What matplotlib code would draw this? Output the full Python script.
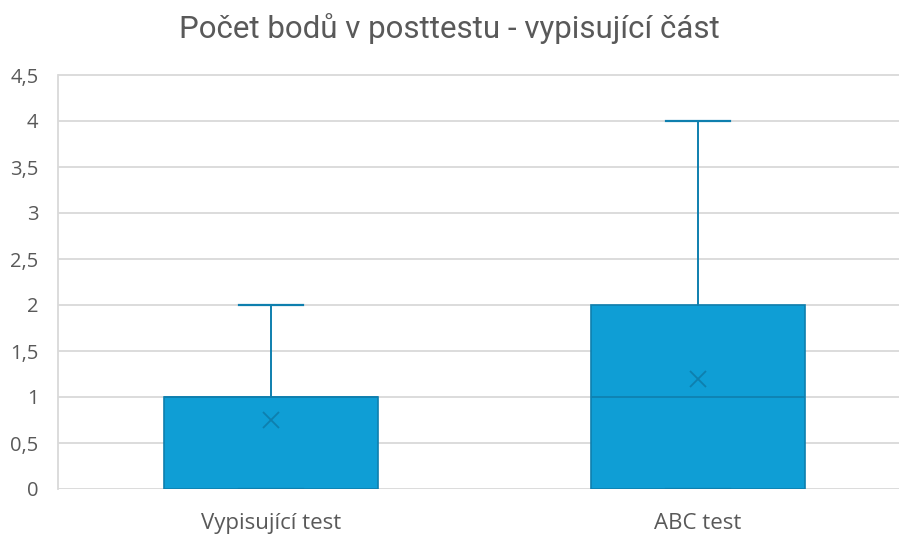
import matplotlib.pyplot as plt
from matplotlib.ticker import FuncFormatter

dpi = 100

# Data
categories = ["Vypisující test", "ABC test"]
mins = [0, 0]
q1s = [0, 0]
medians = [1, 1]
q3s = [1, 2]
maxs = [2, 4]
means = [0.75, 1.2]

title = "Počet bodů v posttestu - vypisující část"

box_color = "#0F9ED5"
edge_color = "#0E7FAE"
grid_color = "#D9D9D9"
text_color = "#595959"

fig = plt.figure(figsize=(8.99, 5.35), dpi=dpi)
ax = fig.add_axes([58 / 899, 1 - 489 / 535, 841 / 899, 414 / 535 * 4.6 / 4.5])

stats = []
for lab, lo, a, m, b, hi, mu in zip(categories, mins, q1s, medians, q3s, maxs, means):
    stats.append({"label": lab, "whislo": lo, "q1": a, "med": m, "q3": b,
                  "whishi": hi, "mean": mu, "fliers": []})

ax.bxp(
    stats, positions=[1, 2], widths=0.5, patch_artist=True, showmeans=True,
    boxprops={"facecolor": box_color, "edgecolor": edge_color, "linewidth": 1.2},
    medianprops={"color": edge_color, "linewidth": 1.2},
    whiskerprops={"color": edge_color, "linewidth": 1.4},
    capprops={"color": edge_color, "linewidth": 1.6},
    capwidths=0.15,
    meanprops={"marker": "x", "markeredgecolor": edge_color, "markersize": 11,
               "markeredgewidth": 1.3},
    zorder=3,
)

ax.set_xlim(1 - 213 / 427, 2 + 201 / 427)
ax.set_ylim(0, 4.6)
ax.set_yticks([i * 0.5 for i in range(10)])
ax.yaxis.set_major_formatter(FuncFormatter(lambda v, _: f"{v:g}".replace(".", ",")))
ax.grid(axis="y", color=grid_color, linewidth=1.3, zorder=0)
ax.set_axisbelow(True)

for s in ["top", "right", "bottom"]:
    ax.spines[s].set_visible(False)
ax.spines["left"].set_color(grid_color)
ax.spines["left"].set_linewidth(1.3)
ax.spines["left"].set_bounds(0, 4.5)

ax.tick_params(axis="both", length=0, colors=text_color)
ax.tick_params(axis="y", labelsize=14.5, pad=14)
ax.tick_params(axis="x", labelsize=16, pad=17)
for lbl in ax.get_xticklabels() + ax.get_yticklabels():
    lbl.set_family(["Open Sans", "DejaVu Sans"])

fig.text(0.5, 1 - 29 / 535, title, ha="center", va="center", fontsize=22.5,
         color=text_color, family=["Roboto", "DejaVu Sans"])

fig.savefig("out.png", dpi=dpi)
